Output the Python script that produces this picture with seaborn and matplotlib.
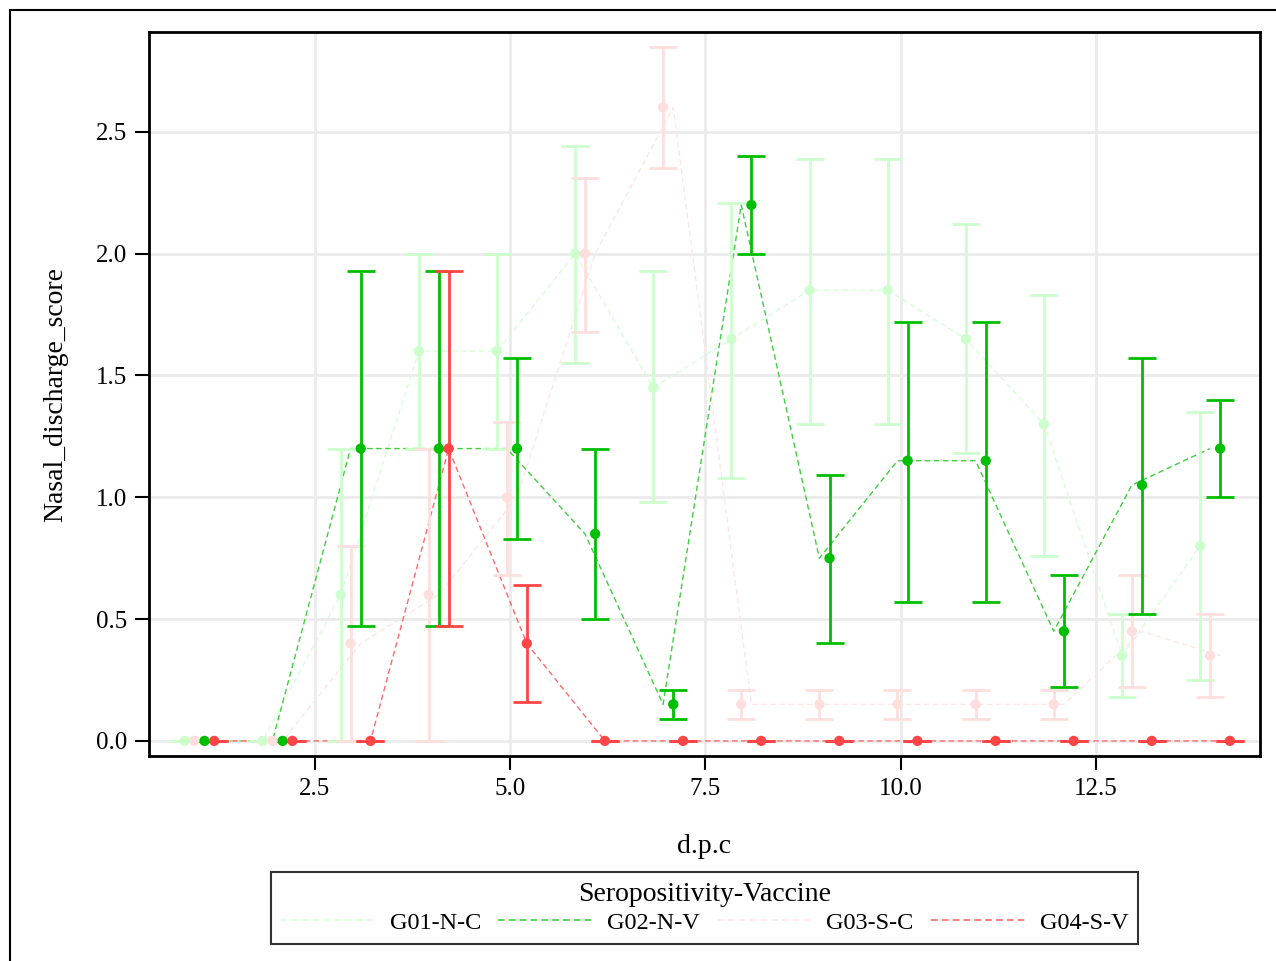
import numpy as np
import pandas as pd
import matplotlib
matplotlib.use("Agg")
import matplotlib.pyplot as plt
from matplotlib.lines import Line2D
from matplotlib.patches import Rectangle
import seaborn as sns

# ---------------- data ----------------
days = [1, 2, 3, 4, 5, 6, 7, 8, 9, 10, 11, 12, 13, 14]
groups = ["G01-N-C", "G02-N-V", "G03-S-C", "G04-S-V"]

g01_mean = [0, 0, 0.60, 1.60, 1.60, 2.00, 1.45, 1.65, 1.85, 1.85, 1.65, 1.30, 0.35, 0.80]
g01_low  = [0, 0, 0.00, 1.20, 1.20, 1.55, 0.98, 1.08, 1.30, 1.30, 1.18, 0.76, 0.18, 0.25]
g01_high = [0, 0, 1.20, 2.00, 2.00, 2.44, 1.93, 2.21, 2.39, 2.39, 2.12, 1.83, 0.52, 1.35]

g02_mean = [0, 0, 1.20, 1.20, 1.20, 0.85, 0.15, 2.20, 0.75, 1.15, 1.15, 0.45, 1.05, 1.20]
g02_low  = [0, 0, 0.47, 0.47, 0.83, 0.50, 0.09, 2.00, 0.40, 0.57, 0.57, 0.22, 0.52, 1.00]
g02_high = [0, 0, 1.93, 1.93, 1.57, 1.20, 0.21, 2.40, 1.09, 1.72, 1.72, 0.68, 1.57, 1.40]

g03_mean = [0, 0, 0.40, 0.60, 1.00, 2.00, 2.60, 0.15, 0.15, 0.15, 0.15, 0.15, 0.45, 0.35]
g03_low  = [0, 0, 0.00, 0.00, 0.68, 1.68, 2.35, 0.09, 0.09, 0.09, 0.09, 0.09, 0.22, 0.18]
g03_high = [0, 0, 0.80, 1.20, 1.31, 2.31, 2.85, 0.21, 0.21, 0.21, 0.21, 0.21, 0.68, 0.52]

g04_mean = [0, 0, 0, 1.20, 0.40, 0, 0, 0, 0, 0, 0, 0, 0, 0]
g04_low  = [0, 0, 0, 0.47, 0.16, 0, 0, 0, 0, 0, 0, 0, 0, 0]
g04_high = [0, 0, 0, 1.93, 0.64, 0, 0, 0, 0, 0, 0, 0, 0, 0]

x_ticks = [2.5, 5.0, 7.5, 10.0, 12.5]
y_ticks = [0.0, 0.5, 1.0, 1.5, 2.0, 2.5]

# ---------------- styling ----------------
colors = {"G01-N-C": "#ccffcc", "G02-N-V": "#00bf00",
          "G03-S-C": "#ffdede", "G04-S-V": "#ff4545"}
line_colors = {"G01-N-C": "#d6ffd6", "G02-N-V": "#3fcf3f",
               "G03-S-C": "#ffe6e6", "G04-S-V": "#ff6a6a"}
pt_offset = {"G01-N-C": -0.165, "G03-S-C": -0.04, "G02-N-V": 0.09, "G04-S-V": 0.215}
ln_offset = {"G01-N-C": -0.165, "G02-N-V": -0.04, "G03-S-C": 0.09, "G04-S-V": 0.215}

means = {"G01-N-C": g01_mean, "G02-N-V": g02_mean, "G03-S-C": g03_mean, "G04-S-V": g04_mean}
lows = {"G01-N-C": g01_low, "G02-N-V": g02_low, "G03-S-C": g03_low, "G04-S-V": g04_low}
highs = {"G01-N-C": g01_high, "G02-N-V": g02_high, "G03-S-C": g03_high, "G04-S-V": g04_high}

rows = []
for g in groups:
    for i, d in enumerate(days):
        rows.append({"group": g, "day": d,
                     "x_pt": d + pt_offset[g], "x_ln": d + ln_offset[g],
                     "mean": means[g][i], "low": lows[g][i], "high": highs[g][i]})
df = pd.DataFrame(rows)

sns.set_theme(style="white")
plt.rcParams["font.family"] = ["Liberation Serif", "DejaVu Serif"]
plt.rcParams["text.color"] = "black"

W, H = 1276, 961
fig = plt.figure(figsize=(W / 100, H / 100), dpi=100)
fig.patch.set_facecolor("white")

# outer border (cropped at right/bottom like the reference)
fig.add_artist(Rectangle((10 / W, -0.05), 1.2, (H - 10) / H + 0.05, transform=fig.transFigure,
                         fill=False, edgecolor="black", linewidth=1.5))

ax = fig.add_axes([149 / W, (H - 756) / H, (1260 - 149) / W, (756 - 32) / H])
ax.set_facecolor("white")
ax.grid(True, color="#ebebeb", linewidth=2)
ax.set_axisbelow(True)

# lines
sns.lineplot(data=df, x="x_ln", y="mean", hue="group", palette=line_colors,
             hue_order=groups, ax=ax, legend=False, linewidth=1.0,
             estimator=None, sort=True, zorder=2)
for ln in ax.get_lines():
    ln.set_dashes([4, 2.5])

# error bars + points
order_draw = ["G01-N-C", "G03-S-C", "G02-N-V", "G04-S-V"]
for k, g in enumerate(order_draw):
    sub = df[df.group == g]
    yerr = np.vstack([sub["mean"] - sub["low"], sub["high"] - sub["mean"]])
    ax.errorbar(sub["x_pt"], sub["mean"], yerr=yerr, fmt="none", ecolor=colors[g],
                elinewidth=2, capsize=10, capthick=2, zorder=3 + k)
sns.scatterplot(data=df, x="x_pt", y="mean", hue="group", palette=colors,
                hue_order=order_draw, ax=ax, legend=False, s=55, linewidth=0,
                zorder=8)

ax.set_xlim(0.38, 14.6)
ax.set_ylim(-0.062, 2.91)
ax.set_xticks(x_ticks)
ax.set_xticklabels([f"{v:.1f}" for v in x_ticks])
ax.set_yticks(y_ticks)
ax.set_yticklabels([f"{v:.1f}" for v in y_ticks])
ax.tick_params(axis="both", direction="out", length=10, width=1.5, color="black",
               labelsize=18, labelcolor="black", pad=6, bottom=True, left=True)
for sp in ax.spines.values():
    sp.set_visible(True)
    sp.set_color("black")
    sp.set_linewidth(2)

ax.set_xlabel("d.p.c", fontsize=20, color="black", labelpad=24)
ax.set_ylabel("Nasal_discharge_score", fontsize=20, color="black", labelpad=20)

handles = [Line2D([0], [0], color=line_colors[g], linewidth=1.2, dashes=[4, 2.5]) for g in groups]
leg = fig.legend(handles, groups, loc="center", ncol=4,
                 bbox_to_anchor=(((272 + 1137) / 2) / W, 1 - ((873 + 943) / 2) / H),
                 title="Seropositivity-Vaccine", title_fontsize=20, fontsize=17.5,
                 frameon=True, fancybox=False, edgecolor="black", handlelength=4.0,
                 columnspacing=0.7, handletextpad=0.5, borderpad=0.4, labelspacing=0.2,
                 borderaxespad=0)
leg.get_frame().set_linewidth(1.5)
for t in leg.get_texts():
    t.set_color("black")
leg.get_title().set_color("black")

fig.savefig("out.png", dpi=100, facecolor="white")
